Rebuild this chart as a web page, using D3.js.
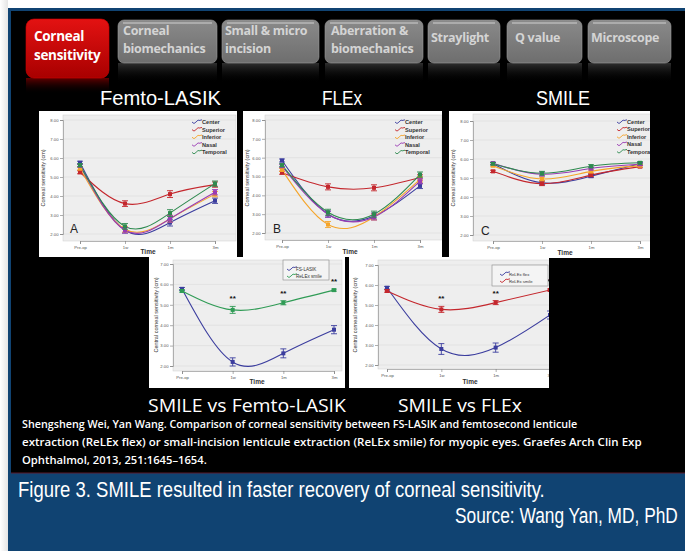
<!DOCTYPE html>
<html><head><meta charset="utf-8">
<script src="https://cdn.jsdelivr.net/npm/d3@7"></script>
<style>
html,body{margin:0;padding:0;background:#fff;}
svg{display:block;}
</style></head>
<body>
<svg id="c" width="685" height="551"></svg>
<script>
// ---------------- DATA ----------------
const timePoints = ["Pre-op", "1w", "1m", "3m"];
const regionNames = ["Center", "Superior", "Inferior", "Nasal", "Temporal"];
const regionColors = ["#3b3d9e", "#c4272d", "#f5a52a", "#9a3bb3", "#2e8a4f"];
const yTicksTop = [2, 3, 4, 5, 6, 7, 8];
const yTicksBottom = [2, 3, 4, 5, 6, 7];

// A: Femto-LASIK by region (Center, Superior, Inferior, Nasal, Temporal)
const lasikValues = [
  [5.75, 2.20, 2.60, 3.75],
  [5.25, 3.60, 4.10, 4.60],
  [5.45, 2.25, 2.80, 4.10],
  [5.60, 2.20, 2.80, 4.20],
  [5.62, 2.40, 3.10, 4.65]
];
const lasikErr = [0.08, 0.15, 0.18, 0.14];

// B: FLEx by region
const flexValues = [
  [5.85, 3.00, 2.90, 4.50],
  [5.20, 4.45, 4.40, 4.95],
  [5.35, 2.45, 2.85, 4.85],
  [5.55, 3.00, 2.85, 4.75],
  [5.60, 3.10, 3.00, 5.10]
];
const flexErr = [0.08, 0.16, 0.16, 0.14];

// C: SMILE by region
const smileValues = [
  [5.75, 4.75, 5.10, 5.75],
  [5.35, 4.70, 5.15, 5.60],
  [5.65, 4.95, 5.35, 5.65],
  [5.78, 5.20, 5.50, 5.72],
  [5.75, 5.25, 5.62, 5.80]
];
const smileErr = [0.06, 0.10, 0.08, 0.06];

// D: SMILE vs Femto-LASIK (central)
const cmpLasikNames = ["FS-LASIK", "ReLEx smile"];
const cmpLasikColors = ["#3b3d9e", "#2f9b55"];
const cmpLasikValues = [
  [5.78, 2.20, 2.62, 3.78],
  [5.68, 4.75, 5.10, 5.72]
];
const cmpLasikErr = [[0.07, 0.20, 0.22, 0.20], [0.06, 0.17, 0.10, 0.05]];
const cmpLasikStars = ["", "**", "**", "**"];

// E: SMILE vs FLEx (central)
const cmpFlexNames = ["ReLEx flex", "ReLEx smile"];
const cmpFlexColors = ["#3b3d9e", "#c4272d"];
const cmpFlexValues = [
  [5.86, 2.80, 2.87, 4.50],
  [5.70, 4.78, 5.12, 5.75]
];
const cmpFlexErr = [[0.07, 0.27, 0.23, 0.20], [0.06, 0.15, 0.10, 0.05]];
const cmpFlexStars = ["", "**", "**", "**"];

// ---------------- DRAW ----------------
const svg = d3.select("#c");
const defs = svg.append("defs");

// background panels
const lg = defs.append("linearGradient").attr("id","leftg").attr("x1",0).attr("x2",1);
lg.append("stop").attr("offset",0).attr("stop-color","#ffffff");
lg.append("stop").attr("offset",1).attr("stop-color","#e4e4e4");
svg.append("rect").attr("x",0).attr("y",0).attr("width",8).attr("height",551).attr("fill","url(#leftg)");
svg.append("rect").attr("x",8).attr("y",8).attr("width",677).attr("height",543).attr("fill","#104372");
svg.append("rect").attr("x",11).attr("y",11).attr("width",674).attr("height",462).attr("fill","#000");
svg.append("line").attr("x1",11).attr("x2",685).attr("y1",473).attr("y2",473).attr("stroke","#5a1a2a").attr("stroke-width",1);

// tabs
const redG = defs.append("linearGradient").attr("id","redg").attr("x1",0).attr("x2",0).attr("y1",0).attr("y2",1);
redG.append("stop").attr("offset",0).attr("stop-color","#e31212");
redG.append("stop").attr("offset",1).attr("stop-color","#a80000");
const greyG = defs.append("linearGradient").attr("id","greyg").attr("x1",0).attr("x2",0).attr("y1",0).attr("y2",1);
greyG.append("stop").attr("offset",0).attr("stop-color","#8a8a8a");
greyG.append("stop").attr("offset",1).attr("stop-color","#6e6e6e");
const reflG = defs.append("linearGradient").attr("id","reflg").attr("x1",0).attr("x2",0).attr("y1",0).attr("y2",1);
reflG.append("stop").attr("offset",0).attr("stop-color","#555").attr("stop-opacity",0.55);
reflG.append("stop").attr("offset",1).attr("stop-color","#000").attr("stop-opacity",0);
const reflR = defs.append("linearGradient").attr("id","reflr").attr("x1",0).attr("x2",0).attr("y1",0).attr("y2",1);
reflR.append("stop").attr("offset",0).attr("stop-color","#8a0000").attr("stop-opacity",0.7);
reflR.append("stop").attr("offset",1).attr("stop-color","#000").attr("stop-opacity",0);

const tabs = [
  {x:118,w:99,lines:["Corneal","biomechanics"],tx:123},
  {x:222,w:97,lines:["Small & micro","incision"],tx:225},
  {x:325,w:98,lines:["Aberration &","biomechanics"],tx:331},
  {x:428,w:72,lines:["Straylight"],tx:431},
  {x:507,w:75,lines:["Q value"],tx:515},
  {x:588,w:83,lines:["Microscope"],tx:591}
];
tabs.forEach(t=>{
  svg.append("rect").attr("x",t.x).attr("y",63).attr("width",t.w).attr("height",20).attr("fill","url(#reflg)");
  svg.append("rect").attr("x",t.x).attr("y",20).attr("width",t.w).attr("height",43).attr("rx",6).attr("fill","url(#greyg)").attr("stroke","#9a9a9a").attr("stroke-width",0.6);
  svg.append("line").attr("x1",t.x+5).attr("x2",t.x+t.w-5).attr("y1",23).attr("y2",23).attr("stroke","#b8b8b8").attr("stroke-width",1.4);
  if(t.lines.length===2){
    svg.append("text").attr("x",t.tx).attr("y",35).text(t.lines[0]).attr("class","tabt");
    svg.append("text").attr("x",t.tx).attr("y",53).text(t.lines[1]).attr("class","tabt");
  } else {
    svg.append("text").attr("x",t.tx).attr("y",42).text(t.lines[0]).attr("class","tabt");
  }
});
svg.selectAll(".tabt").attr("fill","#d4d4d4").attr("font-family","'Open Sans',sans-serif").attr("font-weight","bold").attr("font-size",12.5).attr("letter-spacing",-0.3);

svg.append("rect").attr("x",26).attr("y",78).attr("width",83).attr("height",16).attr("fill","url(#reflr)");
svg.append("rect").attr("x",26).attr("y",19).attr("width",83).attr("height",59).attr("rx",8).attr("fill","url(#redg)").attr("stroke","#c00").attr("stroke-width",0.6);
svg.append("text").attr("x",34).attr("y",41).text("Corneal").attr("class","redt");
svg.append("text").attr("x",34).attr("y",60).text("sensitivity").attr("class","redt");
svg.selectAll(".redt").attr("fill","#fff").attr("font-family","'Open Sans',sans-serif").attr("font-weight","bold").attr("font-size",13.5).attr("letter-spacing",-0.3);

// text fitted horizontally to a target width via scaleX (keeps real text)
function txt(s, x, y, size, w, opts={}){
  const t = svg.append("text").attr("x",0).attr("y",0).text(s)
    .attr("fill", opts.fill||"#fff")
    .attr("font-family", opts.family||"'Liberation Sans Narrow','Liberation Sans',Arial,sans-serif")
    .attr("font-size", size)
    .attr("font-weight", opts.weight||"normal");
  const nat = t.node().getComputedTextLength();
  const sx = w ? w/nat : 1;
  t.attr("transform", `translate(${x},${y}) scale(${sx},1)`);
  return t;
}
txt("Femto-LASIK", 100, 105, 21, 121);
txt("FLEx", 322, 105, 21, 40);
txt("SMILE", 536, 105, 21, 54);

// ------------- chart helper -------------
let clipId = 0;
function chart(cfg){
  const g = svg.append("g");
  const cid = "clip"+(clipId++);
  defs.append("clipPath").attr("id",cid).append("rect")
    .attr("x",cfg.box[0]).attr("y",cfg.box[1]).attr("width",cfg.box[2]).attr("height",cfg.box[3]);
  g.attr("clip-path","url(#"+cid+")");
  g.append("rect").attr("x",cfg.box[0]).attr("y",cfg.box[1]).attr("width",cfg.box[2]).attr("height",cfg.box[3]).attr("fill","#fff");
  const [pl,pt,pr,pb] = cfg.plot;
  g.append("rect").attr("x",pl).attr("y",pt).attr("width",pr-pl).attr("height",pb-pt).attr("fill","#eeeeee").attr("stroke","#cfcfcf").attr("stroke-width",0.5);
  const x = d3.scalePoint().domain(timePoints).range(cfg.xr);
  const y = d3.scaleLinear().domain([2, cfg.ytop]).range(cfg.yr);
  g.append("g").selectAll("line").data(cfg.yticks).join("line")
    .attr("x1",pl).attr("x2",pr).attr("y1",d=>y(d)).attr("y2",d=>y(d))
    .attr("stroke","#dadada").attr("stroke-width",0.6);
  const ya = g.append("g").attr("transform",`translate(${pl},0)`)
    .call(d3.axisLeft(y).tickValues(cfg.yticks).tickFormat(d3.format(".2f")).tickSize(3).tickPadding(1.5));
  const xa = g.append("g").attr("transform",`translate(0,${pb})`)
    .call(d3.axisBottom(x).tickSize(3).tickPadding(2));
  [ya,xa].forEach(a=>{
    a.select(".domain").attr("stroke","#888").attr("stroke-width",0.6);
    a.selectAll(".tick line").attr("stroke","#777").attr("stroke-width",0.6);
    a.selectAll("text").attr("font-size",4.2).attr("fill","#555").attr("font-family","Arial,sans-serif");
  });
  g.append("text").attr("transform",`translate(${cfg.ylab[0]},${cfg.ylab[1]}) rotate(-90)`)
    .attr("text-anchor","middle").attr("font-size",5.5).attr("fill","#333").attr("font-family","Arial,sans-serif").text(cfg.ylabel);
  g.append("text").attr("x",cfg.tlab[0]).attr("y",cfg.tlab[1]).attr("text-anchor","middle")
    .attr("font-size",6.5).attr("font-weight","bold").attr("fill","#333").attr("font-family","Arial,sans-serif").text("Time");
  if(cfg.letter){
    g.append("text").attr("x",cfg.letter[1]).attr("y",cfg.letter[2]).attr("font-size",12).attr("fill","#222")
      .attr("font-family","Arial,sans-serif").text(cfg.letter[0]);
  }
  const line = d3.line().x((d,i)=>x(timePoints[i])).y(d=>y(d)).curve(d3.curveNatural);
  cfg.values.forEach((vals,si)=>{
    g.append("path").attr("d",line(vals)).attr("fill","none").attr("stroke",cfg.colors[si]).attr("stroke-width",1.1);
  });
  cfg.values.forEach((vals,si)=>{
    const col = cfg.colors[si];
    vals.forEach((v,i)=>{
      const e = Array.isArray(cfg.err[0]) ? cfg.err[si][i] : cfg.err[i];
      const cx = x(timePoints[i]);
      g.append("line").attr("x1",cx).attr("x2",cx).attr("y1",y(v-e)).attr("y2",y(v+e)).attr("stroke",col).attr("stroke-width",0.9);
      [v-e,v+e].forEach(w=>g.append("line").attr("x1",cx-3).attr("x2",cx+3).attr("y1",y(w)).attr("y2",y(w)).attr("stroke",col).attr("stroke-width",0.9));
      g.append("rect").attr("x",cx-2).attr("y",y(v)-2).attr("width",4).attr("height",4).attr("fill",col);
    });
  });
  if(cfg.stars){
    cfg.stars.forEach((s,i)=>{
      if(!s) return;
      const si = 1, v = cfg.values[si][i], e = cfg.err[si][i];
      g.append("text").attr("x",x(timePoints[i])).attr("y",y(v+e)-5).attr("text-anchor","middle")
        .attr("font-size",8).attr("font-weight","bold").attr("fill","#111").attr("font-family","Arial,sans-serif").text(s);
    });
  }
  const L = cfg.legend;
  if(L.box){
    g.append("rect").attr("x",L.box[0]).attr("y",L.box[1]).attr("width",L.box[2]).attr("height",L.box[3])
      .attr("fill","#f4f4f4").attr("stroke","#888").attr("stroke-width",0.6);
  }
  cfg.names.forEach((n,i)=>{
    const ly = L.y0 + i*L.dy;
    g.append("path").attr("d",`M${L.x},${ly} q2,3 4,0 t4,-1.5 q1,-1 2,-0.5`)
      .attr("fill","none").attr("stroke",cfg.colors[i]).attr("stroke-width",0.9);
    g.append("text").attr("x",L.x+L.tx).attr("y",ly+2).attr("font-size",L.fs).attr("fill","#333")
      .attr("font-family","Arial,sans-serif").attr("font-weight",L.bold?"bold":"normal").text(n);
  });
}

chart({box:[39,111,198,146], plot:[63,115,236,241], xr:[80,215], yr:[234,120], ytop:8, yticks:yTicksTop,
  values:lasikValues, err:lasikErr, colors:regionColors, names:regionNames,
  ylabel:"Corneal sensitivity (cm)", ylab:[45,178], tlab:[148,254], letter:["A",70,233],
  legend:{x:192,y0:122,dy:7.6,tx:10,fs:5.6,bold:true}});
chart({box:[243,111,199,146], plot:[265,115,442,240], xr:[282,420], yr:[233,120], ytop:8, yticks:yTicksTop,
  values:flexValues, err:flexErr, colors:regionColors, names:regionNames,
  ylabel:"Corneal sensitivity (cm)", ylab:[249,178], tlab:[350,254], letter:["B",273,233],
  legend:{x:395,y0:122,dy:7.6,tx:10,fs:5.6,bold:true}});
chart({box:[449,111,201,147], plot:[473,114,651,241], xr:[493,640], yr:[235,121], ytop:8, yticks:yTicksTop,
  values:smileValues, err:smileErr, colors:regionColors, names:regionNames,
  ylabel:"Corneal sensitivity (cm)", ylab:[455,178], tlab:[565,255], letter:["C",481,235],
  legend:{x:617,y0:122,dy:7.4,tx:10,fs:5.6,bold:true}});
chart({box:[149,257,196,131], plot:[173,260,342,371], xr:[182,334], yr:[366,264], ytop:7, yticks:yTicksBottom,
  values:cmpLasikValues, err:cmpLasikErr, colors:cmpLasikColors, names:cmpLasikNames, stars:cmpLasikStars,
  ylabel:"Central corneal sensitivity (cm)", ylab:[158,315], tlab:[257,384],
  legend:{box:[283,260,46,20], x:287,y0:269,dy:7,tx:9,fs:4.6,bold:false}});
chart({box:[349,257,200,131], plot:[378,260,560,369], xr:[387,550], yr:[365,265], ytop:7, yticks:yTicksBottom,
  values:cmpFlexValues, err:cmpFlexErr, colors:cmpFlexColors, names:cmpFlexNames, stars:cmpFlexStars,
  ylabel:"Central corneal sensitivity (cm)", ylab:[357,315], tlab:[470,384],
  legend:{box:[492,265,56,21], x:500,y0:274,dy:7,tx:9,fs:4.2,bold:false}});

// sub titles
const fsub = "'Open Sans',sans-serif";
txt("SMILE vs Femto-LASIK", 148, 412, 18, 198, {family:fsub});
txt("SMILE vs FLEx", 398, 412, 18, 124, {family:fsub});

// citation
const fc = "'Open Sans',sans-serif";
txt("Shengsheng Wei, Yan Wang. Comparison of corneal sensitivity between FS-LASIK and femtosecond lenticule", 22, 428, 10.5, 556, {family:fc, weight:600});
txt("extraction (ReLEx flex) or small-incision lenticule extraction (ReLEx smile) for myopic eyes. Graefes Arch Clin Exp", 22, 446, 10.5, 620, {family:fc, weight:600});
txt("Ophthalmol, 2013, 251:1645–1654.", 22, 464, 10.5, 185, {family:fc, weight:600});

// caption
txt("Figure 3. SMILE resulted in faster recovery of corneal sensitivity.", 18, 497, 22, 527);
txt("Source: Wang Yan, MD, PhD", 455, 523, 22, 223);
</script>
</body></html>
